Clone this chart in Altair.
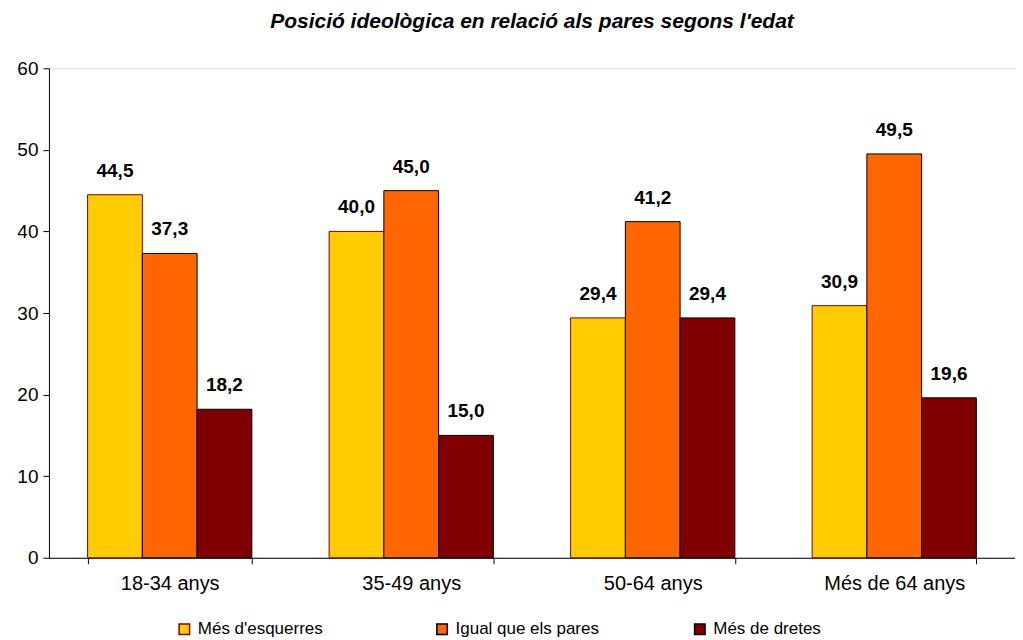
import altair as alt
import pandas as pd

categories = ["18-34 anys", "35-49 anys", "50-64 anys", "Més de 64 anys"]
series = ["Més d'esquerres", "Igual que els pares", "Més de dretes"]
esquerres = [44.5, 40.0, 29.4, 30.9]
igual = [37.3, 45.0, 41.2, 49.5]
dretes = [18.2, 15.0, 29.4, 19.6]

fill_colors = ["#FFCC00", "#FF6600", "#800000"]
stroke_colors = ["#800000", "#000000", "#000000"]

rows = []
for s, vals in zip(series, [esquerres, igual, dretes]):
    for c, v in zip(categories, vals):
        rows.append({"cat": c, "serie": s, "val": v,
                     "label": f"{v:.1f}".replace(".", ",")})
df = pd.DataFrame(rows)

FONT = "Liberation Sans"

x = alt.X("cat:N", sort=categories, title=None,
          scale=alt.Scale(paddingInner=0.32, paddingOuter=0.16),
          axis=alt.Axis(labelAngle=0, labelFontSize=20, labelFont=FONT, labelColor="black",
                        domainColor="black", tickColor="black", tickSize=6,
                        tickBand="extent", labelPadding=10))
xo = alt.XOffset("serie:N", sort=series, scale=alt.Scale(paddingInner=0, paddingOuter=0))
y = alt.Y("val:Q", title=None,
          scale=alt.Scale(domain=[0, 60], nice=False),
          axis=alt.Axis(values=[0, 10, 20, 30, 40, 50, 60], grid=False, labelFontSize=19,
                        labelFont=FONT, labelColor="black", domainColor="black",
                        tickColor="black", tickSize=6, labelPadding=5))

bars = alt.Chart(df).mark_bar(strokeWidth=1).encode(
    x=x, xOffset=xo, y=y,
    fill=alt.Fill("serie:N", sort=series,
                  scale=alt.Scale(domain=series, range=fill_colors),
                  legend=alt.Legend(title=None, orient="none", direction="horizontal",
                                    legendX=127, legendY=553, columns=3, gridAlign="all",
                                    columnPadding=92, symbolType="square", symbolSize=110,
                                    symbolStrokeWidth=1.5, labelFontSize=17, labelFont=FONT,
                                    labelColor="black", labelOffset=5)),
    stroke=alt.Stroke("serie:N", sort=series,
                      scale=alt.Scale(domain=series, range=stroke_colors)),
)

labels = alt.Chart(df).mark_text(dy=-24, baseline="middle", fontSize=19, fontWeight="bold",
                                 font=FONT, color="black").encode(
    x=alt.X("cat:N", sort=categories), xOffset=alt.XOffset("serie:N", sort=series),
    y=alt.Y("val:Q"), text="label:N")

chart = alt.layer(bars, labels).properties(
    width=967, height=490,
    padding={"left": 8, "top": 3, "right": 0, "bottom": 0},
    title=alt.TitleParams("Posició ideològica en relació als pares segons l'edat",
                          font=FONT, fontSize=21, fontWeight="bold", fontStyle="italic",
                          color="black", anchor="middle", offset=27),
).configure_view(fill="#FFFFCC", stroke=None).configure(background="white")

chart.save("out.html", embed_options={"renderer": "svg", "actions": False})
